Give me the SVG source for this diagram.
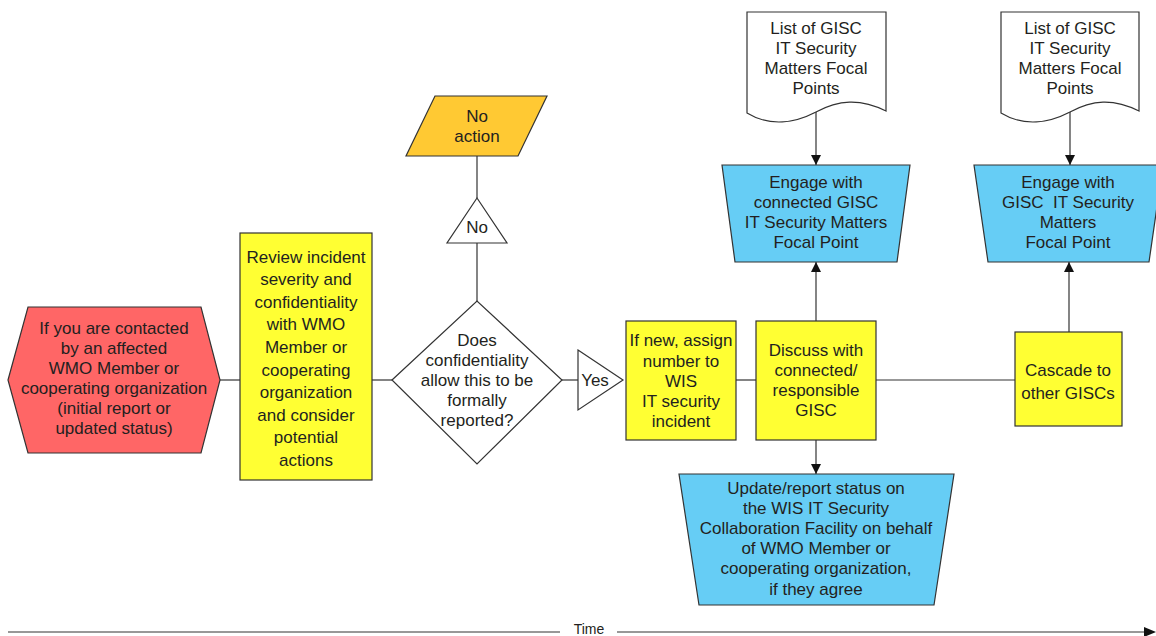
<svg xmlns="http://www.w3.org/2000/svg" width="1156" height="636" viewBox="0 0 1156 636">
<style>
.t{font-family:"Liberation Sans",Arial,sans-serif;font-size:17px;fill:#231f20;text-anchor:middle}
.s{stroke:#333;stroke-width:1.2}
.ln{stroke:#333;stroke-width:1.2;fill:none}
.red{fill:#ff6666}.yel{fill:#ffff33}.blu{fill:#66cdf5}.org{fill:#ffc933}.wht{fill:#fff}
</style>
<defs>
<marker id="ah" viewBox="0 0 10 10" refX="10" refY="5" markerWidth="10" markerHeight="10" markerUnits="userSpaceOnUse" orient="auto">
<path d="M0,0 L10,5 L0,10 Z" fill="#111"/>
</marker>
</defs>
<g id="connectors">
<line class="ln" x1="220" y1="380" x2="240" y2="380"/>
<line class="ln" x1="372" y1="380" x2="392" y2="380"/>
<line class="ln" x1="562" y1="380" x2="578" y2="380"/>
<line class="ln" x1="736" y1="380" x2="756" y2="380"/>
<line class="ln" x1="876" y1="380" x2="1015" y2="380"/>
<line class="ln" x1="477" y1="301" x2="477" y2="243"/>
<line class="ln" x1="477" y1="198" x2="477" y2="156"/>
<line class="ln" x1="816" y1="321" x2="816" y2="262" marker-end="url(#ah)"/>
<line class="ln" x1="1069" y1="332" x2="1069" y2="262" marker-end="url(#ah)"/>
<line class="ln" x1="816" y1="112" x2="816" y2="165" marker-end="url(#ah)"/>
<line class="ln" x1="1070" y1="112" x2="1070" y2="165" marker-end="url(#ah)"/>
<line class="ln" x1="816" y1="440" x2="816" y2="474" marker-end="url(#ah)"/>
</g>
<g id="start">
<polygon class="red s" points="8,380 28,307 201,307 220,380 201,453 28,453"/>
<text class="t" x="114" y="334">If you are contacted</text>
<text class="t" x="114" y="354">by an affected</text>
<text class="t" x="114" y="374">WMO Member or</text>
<text class="t" x="114" y="394">cooperating organization</text>
<text class="t" x="114" y="414">(initial report or</text>
<text class="t" x="114" y="434">updated status)</text>
</g>
<g id="review">
<rect class="yel s" x="240" y="233" width="132" height="247"/>
<text class="t" x="306" y="263">Review incident</text>
<text class="t" x="306" y="285">severity and</text>
<text class="t" x="306" y="308">confidentiality</text>
<text class="t" x="306" y="330">with WMO</text>
<text class="t" x="306" y="353">Member or</text>
<text class="t" x="306" y="376">cooperating</text>
<text class="t" x="306" y="398">organization</text>
<text class="t" x="306" y="421">and consider</text>
<text class="t" x="306" y="443">potential</text>
<text class="t" x="306" y="466">actions</text>
</g>
<g id="decision">
<polygon class="wht s" points="392,380 477,301 562,380 477,464"/>
<text class="t" x="477" y="346">Does</text>
<text class="t" x="477" y="366">confidentiality</text>
<text class="t" x="477" y="386">allow this to be</text>
<text class="t" x="477" y="406">formally</text>
<text class="t" x="477" y="426">reported?</text>
</g>
<g id="no-label">
<polygon class="wht s" points="477,198 507,243 447,243"/>
<text class="t" x="477" y="233">No</text>
</g>
<g id="no-action">
<polygon class="org s" points="435,96 547,96 518,156 406,156"/>
<text class="t" x="477" y="122">No</text>
<text class="t" x="477" y="142">action</text>
</g>
<g id="yes-label">
<polygon class="wht s" points="578,350 623,380 578,410"/>
<text class="t" x="595" y="386">Yes</text>
</g>
<g id="assign">
<rect class="yel s" x="626" y="321" width="110" height="119"/>
<text class="t" x="681" y="346">If new, assign</text>
<text class="t" x="681" y="367">number to</text>
<text class="t" x="681" y="387">WIS</text>
<text class="t" x="681" y="407">IT security</text>
<text class="t" x="681" y="427">incident</text>
</g>
<g id="discuss">
<rect class="yel s" x="756" y="321" width="120" height="119"/>
<text class="t" x="816" y="356">Discuss with</text>
<text class="t" x="816" y="376">connected/</text>
<text class="t" x="816" y="396">responsible</text>
<text class="t" x="816" y="416">GISC</text>
</g>
<g id="cascade">
<rect class="yel s" x="1015" y="332" width="107" height="94"/>
<text class="t" x="1068" y="376">Cascade to</text>
<text class="t" x="1068" y="399">other GISCs</text>
</g>
<g id="doc1">
<path class="wht s" d="M747,12 H886 V111 C860,98 838,100 816,112 C795,123 770,127 747,113 Z"/>
<text class="t" x="816" y="34">List of GISC</text>
<text class="t" x="816" y="54">IT Security</text>
<text class="t" x="816" y="74">Matters Focal</text>
<text class="t" x="816" y="94">Points</text>
</g>
<g id="doc2">
<path class="wht s" d="M1001,12 H1139 V111 C1113,98 1092,100 1070,112 C1049,123 1024,127 1001,113 Z"/>
<text class="t" x="1070" y="34">List of GISC</text>
<text class="t" x="1070" y="54">IT Security</text>
<text class="t" x="1070" y="74">Matters Focal</text>
<text class="t" x="1070" y="94">Points</text>
</g>
<g id="engage1">
<polygon class="blu s" points="722,165 910,165 897,262 735,262"/>
<text class="t" x="816" y="188">Engage with</text>
<text class="t" x="816" y="208">connected GISC</text>
<text class="t" x="816" y="228">IT Security Matters</text>
<text class="t" x="816" y="248">Focal Point</text>
</g>
<g id="engage2">
<polygon class="blu s" points="974,165 1163,165 1149,262 988,262"/>
<text class="t" x="1068" y="188">Engage with</text>
<text class="t" x="1068" y="208" xml:space="preserve">GISC  IT Security</text>
<text class="t" x="1068" y="228">Matters</text>
<text class="t" x="1068" y="248">Focal Point</text>
</g>
<g id="update">
<polygon class="blu s" points="679,474 954,474 934,605 699,605"/>
<text class="t" x="816" y="494">Update/report status on</text>
<text class="t" x="816" y="514">the WIS IT Security</text>
<text class="t" x="816" y="534">Collaboration Facility on behalf</text>
<text class="t" x="816" y="554">of WMO Member or</text>
<text class="t" x="816" y="574">cooperating organization,</text>
<text class="t" x="816" y="595">if they agree</text>
</g>
<g id="time-axis">
<line class="ln" x1="8" y1="632" x2="560" y2="632"/>
<line class="ln" x1="617" y1="632" x2="1146" y2="632"/>
<polygon points="1144,627 1156,632 1144,637" fill="#111"/>
<text class="t" x="589" y="634" style="font-size:14px">Time</text>
</g>
</svg>
